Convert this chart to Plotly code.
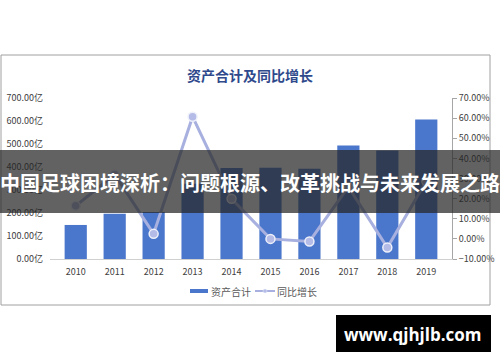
import plotly.graph_objects as go

years = ["2010", "2011", "2012", "2013", "2014", "2015", "2016", "2017", "2018", "2019"]
assets = [148, 197, 204, 327, 396, 397, 392, 493, 472, 607]          # 亿
growth = [0.164, 0.32, 0.025, 0.607, 0.199, 0.0, -0.013, 0.258, -0.043, 0.286]
series_names = ["资产合计", "同比增长"]

title_text = "资产合计及同比增长"
banner_text = "中国足球困境深析：问题根源、改革挑战与未来发展之路"
watermark_text = "www.qjhjlb.com"

BAR_COLOR = "#4a76cc"
LINE_COLOR = "#a7b0de"

W, H = 500, 362
L, R, T, B = 50, 48, 98, 103
PW, PH = W - L - R, H - T - B

def px(x):
    return (x - L) / PW

def py(y):
    return (H - B - y) / PH

CJK = "Noto Sans CJK SC, Noto Sans, sans-serif"

fig = go.Figure()
fig.add_trace(go.Bar(
    x=years, y=assets, name=series_names[0], showlegend=False,
    marker=dict(color=BAR_COLOR, line=dict(width=0)),
))
fig.add_trace(go.Scatter(
    x=years, y=growth, name=series_names[1], yaxis="y2", mode="lines+markers", showlegend=False,
    line=dict(color=LINE_COLOR, width=3),
    marker=dict(size=9, color="#b3bbe6", line=dict(color="#eef0fa", width=1.5)),
))

shapes = [
    dict(type="rect", xref="paper", yref="paper", x0=px(1), x1=px(490), y0=py(305), y1=py(55),
         line=dict(color="#a0a0a0", width=1), fillcolor="rgba(0,0,0,0)", layer="below"),
    # legend swatches
    dict(type="rect", xref="paper", yref="paper", x0=px(190), x1=px(208), y0=py(293), y1=py(289),
         line=dict(width=0), fillcolor=BAR_COLOR),
    dict(type="line", xref="paper", yref="paper", x0=px(255), x1=px(275), y0=py(291), y1=py(291),
         line=dict(color=LINE_COLOR, width=2)),
    dict(type="circle", xref="paper", yref="paper", x0=px(263), x1=px(267), y0=py(293), y1=py(289),
         line=dict(color="#eef0fa", width=0.5), fillcolor="#b3bbe6"),
    # overlay banner and watermark box
    dict(type="rect", xref="paper", yref="paper", x0=px(0), x1=px(500), y0=py(213), y1=py(150),
         line=dict(width=0), fillcolor="rgba(38,38,38,0.72)", layer="above"),
    dict(type="rect", xref="paper", yref="paper", x0=px(336), x1=px(491), y0=py(352), y1=py(315),
         line=dict(width=0), fillcolor="black", layer="above"),
]

annotations = [
    dict(text="<b>" + title_text + "</b>", xref="paper", yref="paper", x=px(250), y=py(75),
         xanchor="center", yanchor="middle", showarrow=False,
         font=dict(family=CJK, size=14, color="#2f4a8c")),
    dict(text=series_names[0], xref="paper", yref="paper", x=px(209), y=py(291),
         xanchor="left", yanchor="middle", showarrow=False,
         font=dict(family=CJK, size=10, color="#595959")),
    dict(text=series_names[1], xref="paper", yref="paper", x=px(275), y=py(291),
         xanchor="left", yanchor="middle", showarrow=False,
         font=dict(family=CJK, size=10, color="#595959")),
    dict(text="<b>" + banner_text + "</b>", xref="paper", yref="paper", x=px(250), y=py(182),
         xanchor="center", yanchor="middle", showarrow=False,
         font=dict(family=CJK, size=20, color="white")),
    dict(text="<b>" + watermark_text + "</b>", xref="paper", yref="paper", x=px(413), y=py(334),
         xanchor="center", yanchor="middle", showarrow=False,
         font=dict(family="Open Sans, DejaVu Sans, sans-serif", size=17, color="white")),
]

fig.update_layout(
    width=W, height=H,
    margin=dict(l=L, r=R, t=T, b=B, pad=0, autoexpand=False),
    paper_bgcolor="white", plot_bgcolor="white",
    font=dict(family=CJK, size=9, color="#404040"),
    bargap=0.43,
    showlegend=False,
    xaxis=dict(type="category", showline=True, linecolor="#d0d0d0", linewidth=1, automargin=False,
               ticks="", showgrid=False, tickfont=dict(size=9, color="#404040"), ticklabelstandoff=4),
    yaxis=dict(range=[0, 700], dtick=100, tickformat=".2f", ticksuffix="亿", automargin=False,
               showgrid=False, zeroline=False, showline=False, ticks="",
               ticklabelstandoff=6, tickfont=dict(size=9, color="#404040")),
    yaxis2=dict(range=[-0.1, 0.7], dtick=0.1, tickformat=".2%", overlaying="y", side="right",
                automargin=False,
                showgrid=False, zeroline=False, showline=True, linecolor="#a6a6a6", linewidth=1,
                ticks="outside", ticklen=4, tickcolor="#a6a6a6",
                tickfont=dict(size=9, color="#404040")),
    shapes=shapes,
    annotations=annotations,
)

fig.write_html("out.html", config={"displayModeBar": False},
               post_script="document.body.style.margin='0';document.body.style.overflow='hidden';")
